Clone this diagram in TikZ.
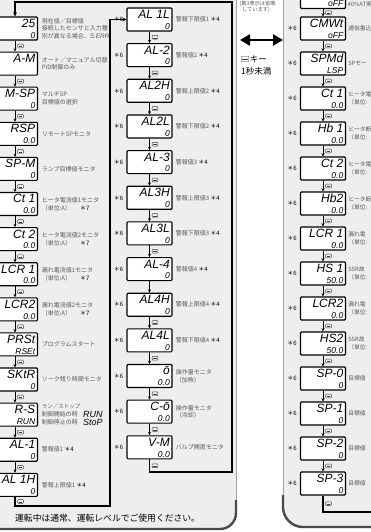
\documentclass[tikz,border=0pt]{standalone}
\usepackage{fontspec}
\setmainfont{Liberation Sans}
\newfontfamily\jp{Noto Sans CJK JP}
\newfontfamily\seg{Liberation Sans}
\usetikzlibrary{arrows.meta,calc}
\definecolor{panelgray}{HTML}{EEEEEE}
\definecolor{descgray}{HTML}{5A5A5A}
\definecolor{edgegray}{HTML}{4A4A4A}
\definecolor{rimgray}{HTML}{A0A0A0}
\tikzset{
  disp/.style={draw=black, line width=1.1pt, rounded corners=1pt, fill=white,
    minimum width=45pt, minimum height=23pt, inner sep=0pt},
  segU/.style={anchor=base east, inner sep=0pt, font=\seg\itshape\fontsize{12}{12}\selectfont},
  segL/.style={anchor=base east, inner sep=0pt, font=\seg\itshape\fontsize{8.5}{8.5}\selectfont},
  segT/.style={anchor=west, inner sep=0pt, font=\seg\itshape\fontsize{9}{9}\selectfont},
  desc/.style={anchor=west, inner sep=0pt, align=left, text=descgray,
    font=\jp\fontsize{6}{7.6}\selectfont},
  rdesc/.style={desc, font=\jp\fontsize{5.8}{7.4}\selectfont},
  sixmark/.style={inner sep=0pt, font=\jp\fontsize{6}{6}\selectfont},
  flow/.style={line width=0.7pt, -{Stealth[length=3.2pt,width=3pt]}},
  loopline/.style={line width=1.3pt},
  keyicon/.style={draw=black!75, line width=0.45pt, rounded corners=0.6pt,
    minimum width=5.6pt, minimum height=3.8pt, inner sep=0pt,
    path picture={\draw[line width=0.4pt]
      ([xshift=0.9pt,yshift=-0.4pt]path picture bounding box.west) --
      ([xshift=-0.9pt,yshift=-0.4pt]path picture bounding box.east);}},
}
\newcommand\Disp[5]{%
  \node[disp] (#1) at (#2,#3+11.5) {};
  \node[segU] at ([xshift=-2.6pt,yshift=-11pt]#1.north east) {#4};
  \node[segL] at ([xshift=-2.6pt,yshift=2.3pt]#1.south east) {#5};}
\newcommand\Step[2]{%
  \draw[flow] (#1.south) -- (#2.north);
  \node[keyicon] at ($(#1.south)!0.5!(#2.north)+(5.5pt,0pt)$) {};}
\newcommand\Six[1]{\node[sixmark] at ([xshift=-8pt]#1.west) {＊6};}
\newcommand\Mark[1]{\textcolor{black}{＊#1}}
\begin{document}
\begin{tikzpicture}[x=1pt,y=-1pt]
\useasboundingbox (0,0) rectangle (371,532);
\fill[white] (0,0) rectangle (371,532);
% panels
\fill[panelgray, rounded corners=16pt] (-20,-20) -- (236,-20) -- (236,529) -- (-20,529) -- cycle;
\draw[rimgray, line width=0.6pt] (236,-20) -- (236,508);
\draw[edgegray, line width=2.4pt, rounded corners=16pt] (236,500) -- (236,529) -- (-20,529);
\fill[panelgray, rounded corners=20pt] (283,-20) -- (400,-20) -- (400,527) -- (283,527) -- cycle;
\draw[rimgray, line width=0.6pt] (283,-20) -- (283,502);
\draw[edgegray, line width=2.4pt, rounded corners=20pt] (283,495) -- (283,527) -- (400,527);

% left column
\Disp{l1}{15}{17}{25}{0}
\Disp{l2}{15}{52.1}{A-M}{}
\Disp{l3}{15}{87.2}{M-SP}{0}
\Disp{l4}{15}{122.3}{RSP}{0.0}
\Disp{l5}{15}{157.4}{SP-M}{0}
\Disp{l6}{15}{192.5}{Ct 1}{0.0}
\Disp{l7}{15}{227.6}{Ct 2}{0.0}
\Disp{l8}{15}{262.7}{LCR 1}{0.0}
\Disp{l9}{15}{297.8}{LCR2}{0.0}
\Disp{l10}{15}{332.9}{PRSt}{RSEt}
\Disp{l11}{15}{368}{SKtR}{0}
\Disp{l12}{15}{403.1}{R-S}{RUN}
\Disp{l13}{15}{438.2}{AL-1}{0}
\Disp{l14}{15}{473.3}{AL 1H}{0}
\foreach \a/\b in {l1/l2,l2/l3,l3/l4,l4/l5,l5/l6,l6/l7,l7/l8,l8/l9,l9/l10,l10/l11,l11/l12,l12/l13,l13/l14}{\Step{\a}{\b}}

% middle column
\Disp{m1}{149.5}{8}{AL 1L}{0}
\Disp{m2}{149.5}{43.65}{AL-2}{0}
\Disp{m3}{149.5}{79.3}{AL2H}{0}
\Disp{m4}{149.5}{114.95}{AL2L}{0}
\Disp{m5}{149.5}{150.6}{AL-3}{0}
\Disp{m6}{149.5}{186.25}{AL3H}{0}
\Disp{m7}{149.5}{221.9}{AL3L}{0}
\Disp{m8}{149.5}{257.55}{AL-4}{0}
\Disp{m9}{149.5}{293.2}{AL4H}{0}
\Disp{m10}{149.5}{328.85}{AL4L}{0}
\Disp{m11}{149.5}{364.5}{ō}{0.0}
\Disp{m12}{149.5}{400.15}{C-ō}{0.0}
\Disp{m13}{149.5}{435.8}{V-M}{0.0}
\foreach \a/\b in {m1/m2,m2/m3,m3/m4,m4/m5,m5/m6,m6/m7,m7/m8,m9/m10,m10/m11,m11/m12,m12/m13}{\Step{\a}{\b}}
\draw[flow] (m8.south) -- (m9.north);
\foreach \n in {m1,m2,m3,m4,m5,m6,m7,m8,m9,m10,m11,m12,m13}{\Six{\n}}

% right column
\Disp{r0}{323}{-14.5}{}{oFF}
\Disp{r1}{323}{17}{CMWt}{oFF}
\Disp{r2}{323}{52}{SPMd}{LSP}
\Disp{r3}{323}{87}{Ct 1}{0.0}
\Disp{r4}{323}{122}{Hb 1}{0.0}
\Disp{r5}{323}{157}{Ct 2}{0.0}
\Disp{r6}{323}{192}{Hb2}{0.0}
\Disp{r7}{323}{227}{LCR 1}{0.0}
\Disp{r8}{323}{262}{HS 1}{50.0}
\Disp{r9}{323}{297}{LCR2}{0.0}
\Disp{r10}{323}{332}{HS2}{50.0}
\Disp{r11}{323}{367}{SP-0}{0}
\Disp{r12}{323}{402}{SP-1}{0}
\Disp{r13}{323}{437}{SP-2}{0}
\Disp{r14}{323}{472}{SP-3}{0}
\foreach \a/\b in {r0/r1,r1/r2,r2/r3,r3/r4,r4/r5,r5/r6,r6/r7,r7/r8,r8/r9,r9/r10,r10/r11,r11/r12,r12/r13,r13/r14}{\Step{\a}{\b}}
\foreach \n in {r1,r2,r3,r4,r5,r6,r7,r8,r9,r10,r11,r12,r13,r14}{\Six{\n}}

% loops
\coordinate (mc) at (232,472);
\coordinate (mt) at (232,2);
\draw[loopline, -{Stealth[length=4pt,width=3.8pt]}] (m13.south) |- (mc) -- (mt) -| (l1.north);
\node[keyicon] at ($(m13.south)!0.5!(m13.south |- mc)+(5.5pt,0pt)$) {};
\coordinate (lb) at (110,506);
\draw[loopline, -{Stealth[length=4pt,width=3.8pt]}] (l14.south) |- (lb) |- (m1.west);
\node[keyicon] at ($(l14.south)!0.5!(l14.south |- lb)+(5.5pt,0pt)$) {};
\coordinate (rb) at (380,512);
\draw[loopline] (r14.south) |- (rb);
\node[keyicon] at ($(r14.south)!0.5!(r14.south |- rb)+(5.5pt,0pt)$) {};

% left descriptions
\node[desc] (dl1) at ([xshift=3.5pt]l1.east) {現在値／目標値\\接続したセンサと入力種\\別が異なる場合、{\seg\itshape\fontsize{6.5}{6}\selectfont S.ERR}};
\node[desc] (dl2) at ([xshift=3.5pt]l2.east) {オート／マニュアル切替\\PID制御のみ};
\node[desc] (dl3) at ([xshift=3.5pt]l3.east) {マルチSP\\目標値の選択};
\node[desc] (dl4) at ([xshift=3.5pt]l4.east) {リモートSPモニタ};
\node[desc] (dl5) at ([xshift=3.5pt]l5.east) {ランプ目標値モニタ};
\node[desc] (dl6) at ([xshift=3.5pt]l6.east) {ヒータ電流値1モニタ\\（単位:A）\hspace{9pt}\Mark{7}};
\node[desc] (dl7) at ([xshift=3.5pt]l7.east) {ヒータ電流値2モニタ\\（単位:A）\hspace{9pt}\Mark{7}};
\node[desc] (dl8) at ([xshift=3.5pt]l8.east) {漏れ電流値1モニタ\\（単位:A）\hspace{9pt}\Mark{7}};
\node[desc] (dl9) at ([xshift=3.5pt]l9.east) {漏れ電流値2モニタ\\（単位:A）\hspace{9pt}\Mark{7}};
\node[desc] (dl10) at ([xshift=3.5pt]l10.east) {プログラムスタート};
\node[desc] (dl11) at ([xshift=3.5pt]l11.east) {ソーク残り時間モニタ};
\node[desc, font=\jp\fontsize{5.5}{6}\selectfont] (dl12a) at ([xshift=3.5pt,yshift=8pt]l12.east) {ラン／ストップ};
\node[desc] (dl12b) at ([xshift=3.5pt,yshift=0.5pt]l12.east) {制御開始の時};
\node[desc] (dl12c) at ([xshift=3.5pt,yshift=-8pt]l12.east) {制御停止の時};
\node[segT] (rs1) at ([xshift=5pt]dl12b.east) {RUN};
\node[segT] (rs2) at ([xshift=5pt]dl12c.east) {StoP};
\node[desc] (dl13) at ([xshift=3.5pt]l13.east) {警報値1 \Mark{4}};
\node[desc] (dl14) at ([xshift=3.5pt]l14.east) {警報上限値1 \Mark{4}};

% middle descriptions
\node[desc] (dm1) at ([xshift=3pt]m1.east) {警報下限値1 \Mark{4}};
\node[desc] (dm2) at ([xshift=3pt]m2.east) {警報値2 \Mark{4}};
\node[desc] (dm3) at ([xshift=3pt]m3.east) {警報上限値2 \Mark{4}};
\node[desc] (dm4) at ([xshift=3pt]m4.east) {警報下限値2 \Mark{4}};
\node[desc] (dm5) at ([xshift=3pt]m5.east) {警報値3 \Mark{4}};
\node[desc] (dm6) at ([xshift=3pt]m6.east) {警報上限値3 \Mark{4}};
\node[desc] (dm7) at ([xshift=3pt]m7.east) {警報下限値3 \Mark{4}};
\node[desc] (dm8) at ([xshift=3pt]m8.east) {警報値4 \Mark{4}};
\node[desc] (dm9) at ([xshift=3pt]m9.east) {警報上限値4 \Mark{4}};
\node[desc] (dm10) at ([xshift=3pt]m10.east) {警報下限値4 \Mark{4}};
\node[desc] (dm11) at ([xshift=3pt]m11.east) {操作量モニタ\\（加熱）};
\node[desc] (dm12) at ([xshift=3pt]m12.east) {操作量モニタ\\（冷却）};
\node[desc] (dm13) at ([xshift=3pt]m13.east) {バルブ開度モニタ};

% right descriptions (only the part left of the page edge)
\node[rdesc] (dr0) at (347.5,4.5) {40\%AT実};
\node[rdesc] (dr1) at ([xshift=2pt]r1.east) {通信書込};
\node[rdesc] (dr2) at ([xshift=2pt]r2.east) {SPモー};
\node[rdesc] (dr3) at ([xshift=2pt]r3.east) {ヒータ電\\（単位:};
\node[rdesc] (dr4) at ([xshift=2pt]r4.east) {ヒータ断\\（単位:};
\node[rdesc] (dr5) at ([xshift=2pt]r5.east) {ヒータ電\\（単位:};
\node[rdesc] (dr6) at ([xshift=2pt]r6.east) {ヒータ断\\（単位:};
\node[rdesc] (dr7) at ([xshift=2pt]r7.east) {漏れ電\\（単位:};
\node[rdesc] (dr8) at ([xshift=2pt]r8.east) {SSR故\\（単位:};
\node[rdesc] (dr9) at ([xshift=2pt]r9.east) {漏れ電\\（単位:};
\node[rdesc] (dr10) at ([xshift=2pt]r10.east) {SSR故\\（単位:};
\node[rdesc] (dr11) at ([xshift=2pt]r11.east) {目標値};
\node[rdesc] (dr12) at ([xshift=2pt]r12.east) {目標値};
\node[rdesc] (dr13) at ([xshift=2pt]r13.east) {目標値};
\node[rdesc] (dr14) at ([xshift=2pt]r14.east) {目標値};

% between panels
\node[anchor=north west, inner sep=0pt, align=left, text=descgray,
  font=\jp\fontsize{5.2}{6.3}\selectfont] (omit) at (239.5,0.5) {(第3表示は省略\\\hspace{2.5pt}しています)};
\coordinate (dl) at (240,40);
\coordinate (dr) at (283,40);
\draw[line width=2.8pt, {Triangle[length=10pt,width=11pt]}-{Triangle[length=10pt,width=11pt]}] (dl) -- (dr);
\node[keyicon, minimum width=7.5pt, minimum height=5.5pt] (mk) at (245,59) {};
\node[anchor=west, inner sep=0pt, font=\jp\fontsize{8.5}{8.5}\selectfont] (mkt) at ([xshift=0.8pt]mk.east) {キー};
\node[anchor=west, inner sep=0pt, font=\jp\fontsize{8.5}{8.5}\selectfont] (sec) at (241,71) {1秒未満};

% bottom note
\node[anchor=west, inner sep=0pt, font=\jp\fontsize{8.8}{8.8}\selectfont] (bottom) at (15,518) {運転中は通常、運転レベルでご使用ください。};
\end{tikzpicture}
\end{document}
